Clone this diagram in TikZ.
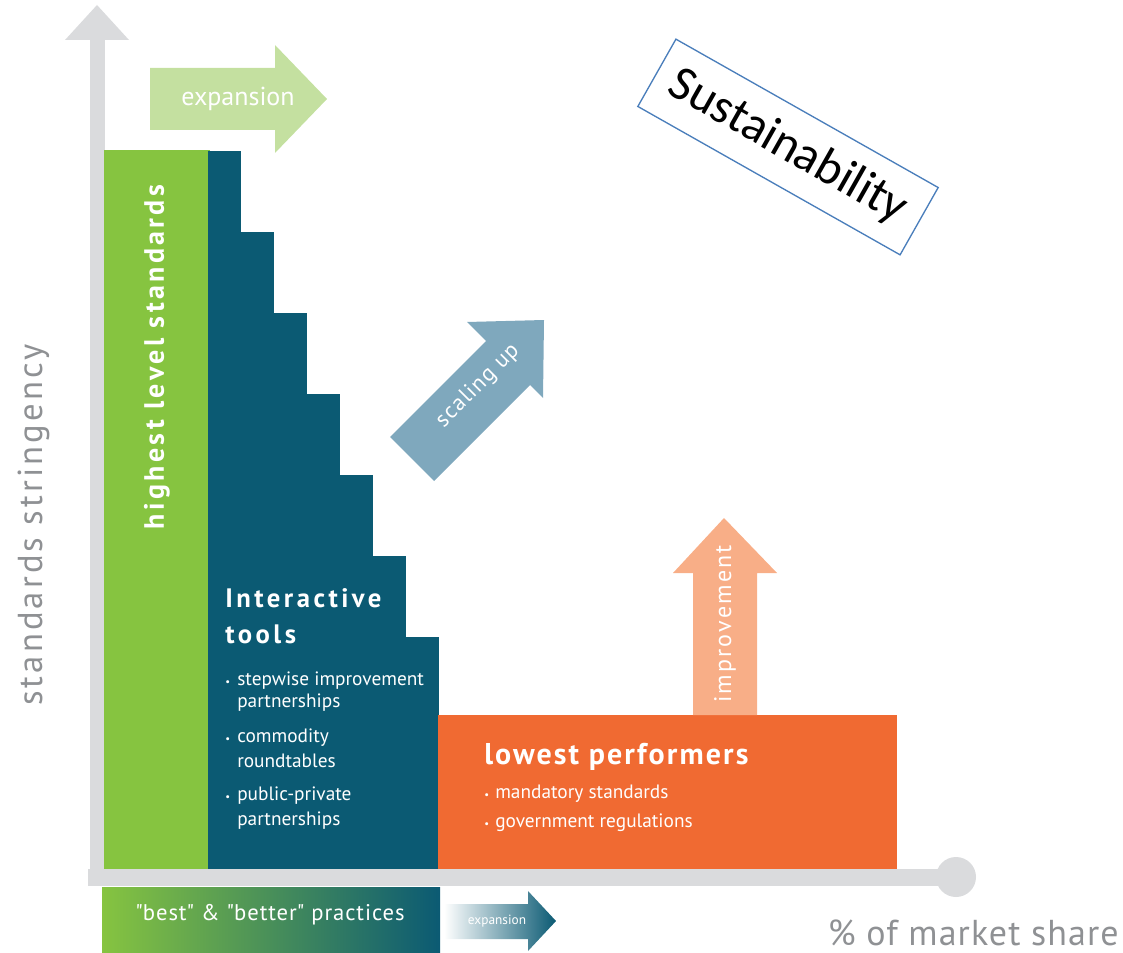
\documentclass[tikz,border=0pt]{standalone}
\usepackage{fontspec}
\setmainfont{PT Sans}
\newfontfamily\susfont{Carlito}
\newcommand{\fsz}[1]{\fontsize{#1}{#1}\selectfont}
\newcommand{\spaced}[1]{\addfontfeature{LetterSpace=#1}}

\definecolor{axisgray}{HTML}{DADBDD}
\definecolor{labelgray}{HTML}{8F9194}
\definecolor{topgreen}{HTML}{86C440}
\definecolor{paleGreen}{HTML}{C4E0A0}
\definecolor{deepteal}{HTML}{0B5A73}
\definecolor{midteal}{HTML}{137484}
\definecolor{loworange}{HTML}{F06A32}
\definecolor{paleorange}{HTML}{F8AE87}
\definecolor{steelblue}{HTML}{7FA8BD}
\definecolor{boxblue}{HTML}{4A7EBB}

\begin{document}
\begin{tikzpicture}[x=0.75pt, y=-0.75pt,
    txt/.style={inner sep=0pt, text=white},
    head/.style={txt, anchor=base west, font=\bfseries\fsz{20}\spaced{13}},
    item/.style={txt, anchor=base west, font=\fsz{14.5}},
    dot/.style={txt, anchor=base west, font=\fsz{8}}]
\useasboundingbox (0,0) rectangle (1123,952);

% axes
\fill[axisgray] (90,40) rectangle (105,886);
\fill[axisgray] (65,40) -- (97,5) -- (129,40) -- cycle;
\fill[axisgray] (88,869) rectangle (956,886);
\fill[axisgray] (956,877) circle[radius=15pt];

% blocks
\fill[topgreen] (104,150) rectangle (210,869);
\foreach \i in {0,...,6}
    \fill[deepteal] (208+33*\i,151+81*\i) rectangle (241+33*\i,869);
\fill[loworange] (438,715) rectangle (897,869);
\shade[left color=topgreen, middle color=midteal, right color=deepteal]
    (102,887) rectangle (440,952);

% arrows
\fill[paleGreen] (150,68) -- (275,68) -- (275,45) -- (327,99) -- (275,153)
    -- (275,130) -- (150,130) -- cycle;
\fill[steelblue] (390,437) -- (486,341) -- (467,322) -- (544,320) -- (543,398)
    -- (530,385) -- (434,481) -- cycle;
\fill[paleorange] (693,715) -- (693,573) -- (673,573) -- (724,518) -- (777,573)
    -- (757,573) -- (757,715) -- cycle;
\shade[left color=white, right color=deepteal] (444,904) -- (528,904) -- (528,891)
    -- (556,921) -- (528,951) -- (528,939) -- (444,939) -- cycle;

% texts
\node[txt, font=\fsz{19.5}] (expTop) at (238,99) {expansion};
\node[txt, font=\fsz{17}\spaced{5}, rotate=45] (scaling) at (478,386) {scaling up};
\node[txt, font=\fsz{18}\spaced{9}, rotate=90] (improve) at (725,624) {improvement};
\node[txt, font=\fsz{10}] (expBottom) at (497,921) {expansion};
\node[txt, font=\fsz{17}\spaced{4}] (practices) at (270,915)
    {\textquotedbl best\textquotedbl\ \& \textquotedbl better\textquotedbl\ practices};
\node[txt, font=\bfseries\fsz{21}\spaced{12}, rotate=90] (highest) at (157,357) {highest level standards};
\node[inner sep=0pt, text=labelgray, font=\fsz{26}\spaced{9}, rotate=90] (yaxis) at (34,525) {standards stringency};
\node[inner sep=0pt, text=labelgray, font=\fsz{27}\spaced{3}, anchor=base east] (xaxis) at (1119,945) {\% of market share};

\node[head] (inter) at (225,607) {Interactive};
\node[head] (tools) at (225,643) {tools};
\foreach \t/\y [count=\k] in {stepwise improvement/685, partnerships/707,
    commodity/742, roundtables/767, public-private/800, partnerships/825}
    \node[item] (tool\k) at (237,\y) {\t};
\foreach \y [count=\k] in {685,742,800}
    \node[dot] (tdot\k) at (225,\y) {•};

\node[head, font=\bfseries\fsz{22.5}\spaced{7}] (lowest) at (484,764) {lowest performers};
\node[item] (low1) at (495,798) {mandatory standards};
\node[item] (low2) at (495,827) {government regulations};
\node[dot] (ldot1) at (484,798) {•};
\node[dot] (ldot2) at (484,827) {•};

\node[draw=boxblue, line width=1pt, fill=white, minimum width=226pt, minimum height=58pt,
    rotate=-29.5, font=\susfont\fsz{37}] (sustain) at (788,147) {Sustainability};
\end{tikzpicture}
\end{document}
